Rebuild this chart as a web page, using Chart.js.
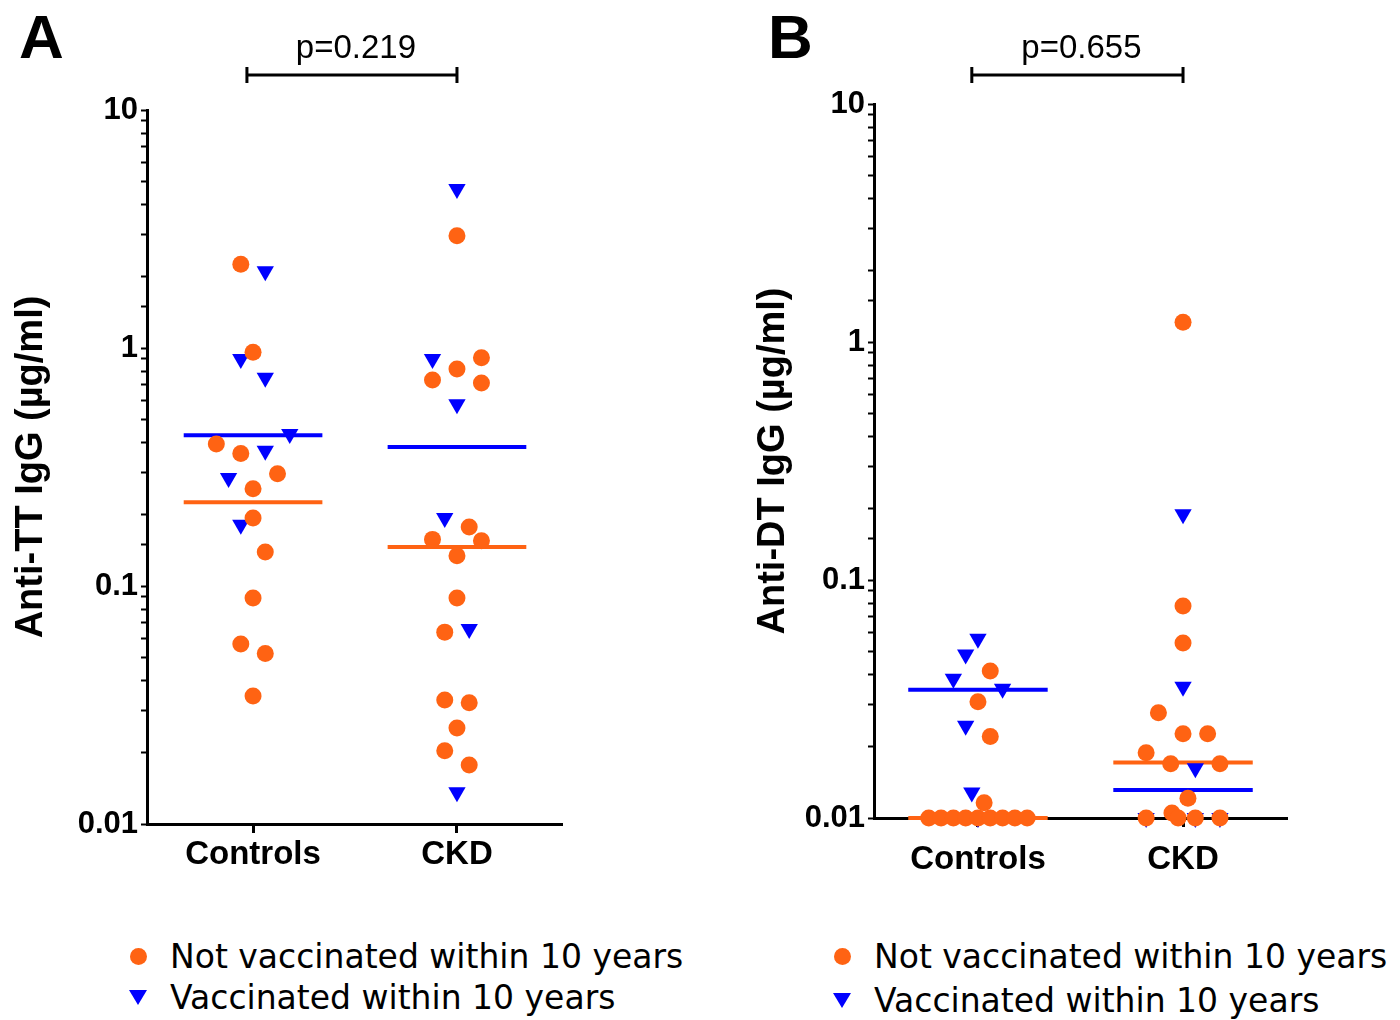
<!DOCTYPE html>
<html>
<head>
<meta charset="utf-8">
<script src="https://cdn.jsdelivr.net/npm/chart.js@4.4.1/dist/chart.umd.min.js"></script>
<style>
  body { margin: 0; background: #fff; width: 1400px; height: 1020px; position: relative; overflow: hidden; }
  canvas { position: absolute; top: 0; }
  #chartA { left: 0; }
  #chartB { left: 700px; }
  .legend { position: absolute; font: 33px "DejaVu Sans", sans-serif; color: #000; }
  .legend .row { display: flex; align-items: center; height: 41px; white-space: nowrap; }
  .legend .mark { width: 40px; display: flex; justify-content: center; align-items: center; margin-right: 12px; }
  .dot { width: 17px; height: 17px; border-radius: 50%; background: #ff6313; }
  .tri { width: 0; height: 0; border-left: 9px solid transparent; border-right: 9px solid transparent; border-top: 15px solid #0000ff; }
</style>
</head>
<body>
<canvas id="chartA" width="700" height="900"></canvas>
<canvas id="chartB" width="700" height="900"></canvas>
<div class="legend" id="legendA" style="left:118px; top:936px"></div>
<div class="legend" id="legendB" style="left:822px; top:936px"></div>

<script>
const groups = ["Controls", "CKD"];
const seriesNames = ["Not vaccinated within 10 years", "Vaccinated within 10 years"];

// Panel A: anti-TT IgG (µg/ml); slots = horizontal jitter position inside a column
const ttCtrlNot = [2.25, 0.96, 0.395, 0.36, 0.296, 0.256, 0.193, 0.139, 0.089, 0.057, 0.052, 0.0345];
const ttCtrlNotSlot = [-1, 0, -3, -1, 2, 0, 0, 1, 0, -1, 1, 0];
const ttCtrlVac = [2.1, 0.9, 0.75, 0.435, 0.37, 0.284, 0.181];
const ttCtrlVacSlot = [1, -1, 1, 3, 1, -2, -1];
const ttCkdNot = [2.96, 0.91, 0.817, 0.734, 0.713, 0.177, 0.157, 0.155, 0.134, 0.089, 0.064, 0.0332, 0.0323, 0.0253, 0.0203, 0.0177];
const ttCkdNotSlot = [0, 2, 0, -2, 2, 1, -2, 2, 0, 0, -1, -1, 1, 0, -1, 1];
const ttCkdVac = [4.66, 0.9, 0.58, 0.193, 0.066, 0.0136];
const ttCkdVacSlot = [0, -2, 0, -1, 1, 0];
const ttMedianNot = [0.225, 0.146];
const ttMedianVac = [0.43, 0.384];
const ttP = "p=0.219";

// Panel B: anti-DT IgG (µg/ml)
const dtCtrlNot = [0.0415, 0.0308, 0.022, 0.0116, 0.01, 0.01, 0.01, 0.01, 0.01, 0.01, 0.01, 0.01, 0.01];
const dtCtrlNotSlot = [1, 0, 1, 0.5, -4, -3, -2, -1, 0, 1, 2, 3, 4];
const dtCtrlVac = [0.0567, 0.0486, 0.0385, 0.0349, 0.0244, 0.0128, 0.01];
const dtCtrlVacSlot = [0, -1, -2, 2, -1, -0.5, 0];
const dtCkdNot = [1.21, 0.0778, 0.0544, 0.0277, 0.0226, 0.0226, 0.0188, 0.0169, 0.0169, 0.0121, 0.01, 0.0105, 0.01, 0.01, 0.01];
const dtCkdNotSlot = [0, 0, 0, -2, 0, 2, -3, -1, 3, 0.4, -3, -0.9, -0.4, 1, 3];
const dtCkdVac = [0.189, 0.0356, 0.0162, 0.01, 0.01, 0.01];
const dtCkdVacSlot = [0, 0, 1, -3, 1, 3];
const dtMedianNot = [0.01, 0.0171];
const dtMedianVac = [0.0346, 0.0131];
const dtP = "p=0.655";

const ORANGE = "#ff6313";
const BLUE = "#0000ff";
const SLOT = 0.06;        // jitter step, in column units
const MEDIAN_HALF = 0.34; // half length of median bars
const FONT = '"Liberation Sans", Arial, sans-serif';

function points(values, slots, group) {
  return values.map((v, i) => ({ x: group + slots[i] * SLOT, y: v }));
}

function medianLine(value, group, color) {
  return {
    label: "median",
    data: [{ x: group - MEDIAN_HALF, y: value }, { x: group + MEDIAN_HALF, y: value }],
    showLine: true,
    borderColor: color,
    borderWidth: 4,
    pointRadius: 0,
    clip: false,
    order: 3,
  };
}

// bracket with p value and the panel letter
const annotations = {
  id: "annotations",
  afterDraw(chart, args, opts) {
    const { ctx } = chart;
    const x = chart.scales.x;
    const x0 = x.getPixelForValue(-0.03);
    const x1 = x.getPixelForValue(1);
    const y = 75;
    ctx.save();
    ctx.strokeStyle = "#000";
    ctx.fillStyle = "#000";
    ctx.lineWidth = 3;
    ctx.beginPath();
    ctx.moveTo(x0, y);
    ctx.lineTo(x1, y);
    ctx.moveTo(x0, y - 8);
    ctx.lineTo(x0, y + 8);
    ctx.moveTo(x1, y - 8);
    ctx.lineTo(x1, y + 8);
    ctx.stroke();
    ctx.font = "33px " + FONT;
    ctx.textAlign = "center";
    ctx.textBaseline = "alphabetic";
    ctx.fillText(opts.pText, (x0 + x1) / 2 + 4, 58);
    ctx.font = "bold 62px " + FONT;
    ctx.textAlign = "left";
    ctx.fillText(opts.letter, opts.letterX, 58);
    ctx.restore();
  },
};

function createPanel(canvas, p) {
  const datasets = [
    {
      label: seriesNames[0],
      data: points(p.ctrlNot, p.ctrlNotSlot, 0).concat(points(p.ckdNot, p.ckdNotSlot, 1)),
      backgroundColor: ORANGE,
      pointStyle: "circle",
      pointRadius: 8.5,
      pointBorderWidth: 0,
      clip: false,
      order: 1,
    },
    {
      label: seriesNames[1],
      data: points(p.ctrlVac, p.ctrlVacSlot, 0).concat(points(p.ckdVac, p.ckdVacSlot, 1)),
      backgroundColor: BLUE,
      pointStyle: "triangle",
      pointRotation: 180,
      pointRadius: 10,
      pointBorderWidth: 0,
      clip: false,
      order: 2,
    },
  ];
  groups.forEach((g, i) => {
    datasets.push(medianLine(p.medianNot[i], i, ORANGE));
    datasets.push(medianLine(p.medianVac[i], i, BLUE));
  });

  new Chart(canvas, {
    type: "scatter",
    data: { datasets },
    options: {
      responsive: false,
      animation: false,
      events: [],
      devicePixelRatio: 1,
      layout: { padding: p.padding },
      plugins: {
        legend: { display: false },
        tooltip: { enabled: false },
        annotations: { pText: p.pText, letter: p.letter, letterX: p.letterX },
      },
      scales: {
        x: {
          type: "linear",
          min: p.xMin,
          max: p.xMax,
          afterBuildTicks: (scale) => {
            scale.ticks = groups.map((g, i) => ({ value: i }));
          },
          afterFit: (scale) => {
            scale.height = 60;
          },
          ticks: {
            autoSkip: false,
            maxRotation: 0,
            padding: p.xLabelPad,
            color: "#000",
            font: { family: FONT, size: 33, weight: "bold" },
            callback: (v) => groups[v],
          },
          grid: { drawOnChartArea: false, tickLength: 9, tickWidth: 3, tickColor: "#000" },
          border: { color: "#000", width: 3 },
        },
        y: {
          type: "logarithmic",
          min: 0.01,
          max: 10,
          afterFit: (scale) => {
            scale.width = p.yWidth;
          },
          ticks: {
            autoSkip: false,
            padding: 3,
            color: "#000",
            font: { family: FONT, size: 31, weight: "bold" },
            callback: (v) => {
              const e = Math.log10(v);
              return Math.abs(e - Math.round(e)) < 1e-6 ? String(Math.pow(10, Math.round(e))) : "";
            },
          },
          grid: { drawOnChartArea: false, tickLength: 6, tickWidth: 2, tickColor: "#000" },
          border: { color: "#000", width: 3 },
          title: {
            display: true,
            text: p.yTitle,
            color: "#000",
            padding: 0,
            font: { family: FONT, size: 38, weight: "bold" },
          },
        },
      },
    },
    plugins: [annotations],
  });
}

function createLegend(el, rowGap) {
  const marks = ["dot", "tri"];
  seriesNames.forEach((name, i) => {
    const row = document.createElement("div");
    row.className = "row";
    if (i > 0) row.style.marginTop = rowGap + "px";
    const mark = document.createElement("span");
    mark.className = "mark";
    const shape = document.createElement("span");
    shape.className = marks[i];
    mark.appendChild(shape);
    row.appendChild(mark);
    row.appendChild(document.createTextNode(name));
    el.appendChild(row);
  });
}

createPanel(document.getElementById("chartA"), {
  ctrlNot: ttCtrlNot, ctrlNotSlot: ttCtrlNotSlot,
  ctrlVac: ttCtrlVac, ctrlVacSlot: ttCtrlVacSlot,
  ckdNot: ttCkdNot, ckdNotSlot: ttCkdNotSlot,
  ckdVac: ttCkdVac, ckdVacSlot: ttCkdVacSlot,
  medianNot: ttMedianNot, medianVac: ttMedianVac,
  pText: ttP, letter: "A", letterX: 19,
  yTitle: "Anti-TT IgG (µg/ml)",
  padding: { left: 9, top: 110, right: 138, bottom: 16 },
  yWidth: 138,
  xLabelPad: 2,
  xMin: -0.52, xMax: 1.515,
});

createPanel(document.getElementById("chartB"), {
  ctrlNot: dtCtrlNot, ctrlNotSlot: dtCtrlNotSlot,
  ctrlVac: dtCtrlVac, ctrlVacSlot: dtCtrlVacSlot,
  ckdNot: dtCkdNot, ckdNotSlot: dtCkdNotSlot,
  ckdVac: dtCkdVac, ckdVacSlot: dtCkdVacSlot,
  medianNot: dtMedianNot, medianVac: dtMedianVac,
  pText: dtP, letter: "B", letterX: 68,
  yTitle: "Anti-DT IgG (µg/ml)",
  padding: { left: 51, top: 104, right: 113, bottom: 22 },
  yWidth: 123,
  xLabelPad: 13,
  xMin: -0.507, xMax: 1.507,
});

createLegend(document.getElementById("legendA"), 0);
createLegend(document.getElementById("legendB"), 3);
</script>
</body>
</html>
